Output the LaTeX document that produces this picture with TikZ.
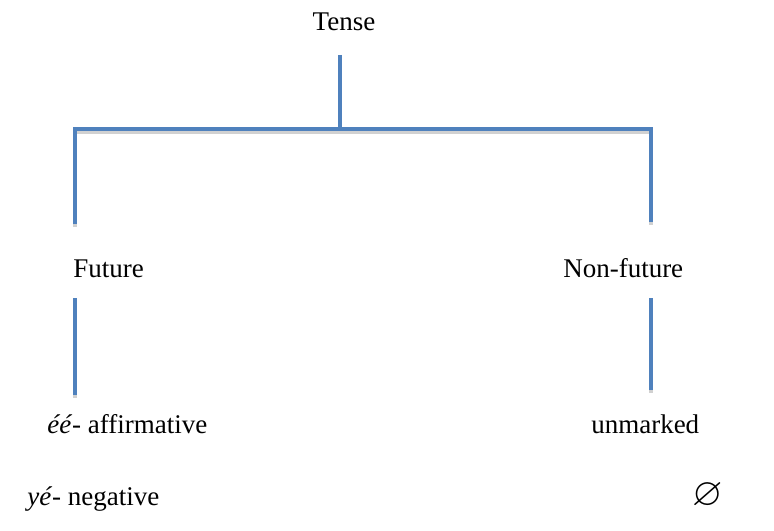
\documentclass[tikz,border=0pt]{standalone}
\usepackage{fontspec}
\usepackage{amsmath, amssymb}
\setmainfont{Liberation Serif}
\usetikzlibrary{calc}
\definecolor{branchblue}{HTML}{4F81BD}

\begin{document}
\begin{tikzpicture}[x=0.75pt, y=-0.75pt,
        label_style/.style={inner sep=0pt, font=\fontsize{20.25}{24}\selectfont},
        branch_style/.style={draw=branchblue, line width=3pt,
            preaction={draw=black!18, line width=3pt, transform canvas={yshift=-2pt}}}]

        \useasboundingbox (0,0) rectangle (774,531);

        \node [label_style,anchor=base] (tense) at (344,31) {Tense};

        \node [label_style,anchor=base west] (fut) at (73,277) {Future};

        \node [label_style,anchor=base west] (nonfut) at (563,277) {Non-future};

        \node [label_style,anchor=base west] (aff) at (47,433) {\textit{éé}- affirmative};

        \node [label_style,anchor=base west] (unm) at (591,433) {unmarked};

        \node [label_style,anchor=base west] (neg) at (27,505) {\textit{yé}- negative};

        \node [label_style,anchor=base] (zero) at (708,505) {\scalebox{1.45}{$\varnothing$}};

        \coordinate (t0) at (340,55);
        \coordinate (t1) at (340,129);
        \coordinate (l0) at (75,129);
        \coordinate (l1) at (75,224);
        \coordinate (r0) at (651,129);
        \coordinate (r1) at (651,222);
        \coordinate (fl0) at (75,298);
        \coordinate (fl1) at (75,395);
        \coordinate (nl0) at (651,298);
        \coordinate (nl1) at (651,390);

        \draw [branch_style] (t0) -- (t1);

        \draw [branch_style] (l1) -- (l0) -- (r0) -- (r1);

        \draw [branch_style] (fl0) -- (fl1);

        \draw [branch_style] (nl0) -- (nl1);

\end{tikzpicture}
\end{document}
